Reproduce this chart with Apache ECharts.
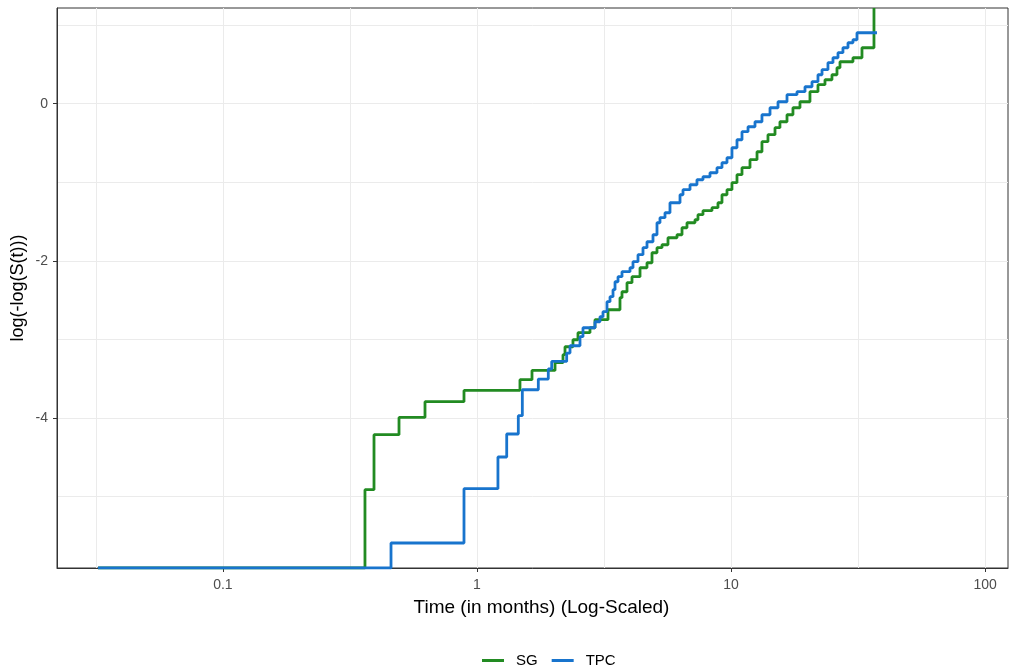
<!DOCTYPE html>
<html>
<head>
<meta charset="utf-8">
<script src="https://cdn.jsdelivr.net/npm/echarts@6/dist/echarts.min.js"></script>
<style>
  html, body { margin: 0; padding: 0; background: #ffffff; }
  #chart { width: 1022px; height: 671px; }
</style>
</head>
<body>
<div id="chart"></div>
<script>
// Axis limits: time in months (log scale) and log(-log(S(t)))
const X_MIN = 0.02223, X_MAX = 123.0;
const Y_MIN = -5.907, Y_MAX = 1.218;
const X_TICKS = [0.1, 1, 10, 100];
const Y_TICKS = [-4, -2, 0];

// Step points: event time (months) and log(-log(S(t))) after the event.
// -Infinity / Infinity (S = 1 / S = 0) are drawn on the panel edge.
const sgTime = [0.03225, 0.3623, 0.3932, 0.4932, 0.6242, 0.8888, 1.476, 1.646, 2.028, 2.180,
  2.220, 2.386, 2.497, 2.784, 2.913, 3.278, 3.654, 3.721, 3.894, 4.074,
  4.381, 4.667, 4.884, 5.110, 5.347, 5.645, 6.126, 6.410, 6.706, 7.210,
  7.408, 7.752, 8.410, 8.880, 9.209, 9.636, 10.08, 10.55, 11.04, 11.87,
  12.65, 13.23, 13.97, 14.89, 15.57, 16.60, 17.52, 18.67, 20.44, 21.98,
  23.42, 24.95, 26.11, 26.83, 30.18, 32.75, 36.51];
const sgValue = [-Infinity, -4.911, -4.211, -3.991, -3.791, -3.648, -3.511, -3.393, -3.295, -3.193,
  -3.092, -3.003, -2.913, -2.850, -2.748, -2.621, -2.468, -2.392, -2.277, -2.201,
  -2.087, -2.023, -1.896, -1.832, -1.794, -1.705, -1.667, -1.578, -1.514, -1.476,
  -1.412, -1.361, -1.323, -1.260, -1.158, -1.094, -1.005, -0.903, -0.814, -0.712,
  -0.611, -0.483, -0.394, -0.305, -0.229, -0.140, -0.051, 0.025, 0.153, 0.242,
  0.305, 0.369, 0.458, 0.534, 0.585, 0.712, Infinity];

const tpcTime = [0.03225, 0.4587, 0.8888, 1.209, 1.309, 1.454, 1.508, 1.743, 1.908, 1.968,
  2.254, 2.323, 2.543, 2.613, 2.913, 3.048, 3.132, 3.248, 3.338, 3.430,
  3.493, 3.589, 3.721, 4.001, 4.111, 4.302, 4.501, 4.667, 4.928, 5.110,
  5.250, 5.494, 5.748, 6.295, 6.468, 6.892, 7.340, 7.752, 8.260, 8.801,
  9.209, 9.636, 10.08, 10.55, 11.04, 11.66, 12.42, 13.23, 14.23, 15.30,
  16.60, 18.17, 19.54, 20.82, 21.98, 22.80, 24.06, 25.18, 26.35, 27.56,
  28.85, 30.18, 31.30, 37.52];
const tpcValue = [-Infinity, -5.589, -4.898, -4.495, -4.202, -3.969, -3.639, -3.503, -3.375, -3.279,
  -3.172, -3.079, -2.964, -2.850, -2.774, -2.710, -2.646, -2.519, -2.455, -2.366,
  -2.265, -2.201, -2.137, -2.087, -2.010, -1.921, -1.832, -1.756, -1.667, -1.514,
  -1.450, -1.387, -1.260, -1.158, -1.094, -1.031, -0.967, -0.929, -0.878, -0.814,
  -0.751, -0.687, -0.560, -0.458, -0.356, -0.293, -0.229, -0.140, -0.051, 0.025,
  0.115, 0.153, 0.216, 0.280, 0.369, 0.433, 0.522, 0.585, 0.649, 0.712,
  0.776, 0.814, 0.903, 0.903];

const SERIES_NAMES = ['SG', 'TPC'];
const COLORS = { SG: '#228B22', TPC: '#1874CD' };

// Infinite values sit on the panel edge, as in a clipped plot.
function edge(v) {
  if (v === -Infinity) return Y_MIN;
  if (v === Infinity) return Y_MAX;
  return v;
}
function pairs(ts, vs) {
  return ts.map((t, i) => [t, edge(vs[i])]);
}

const FONT = '"Liberation Sans", Arial, Helvetica, sans-serif';
const GRID_COLOR = '#ebebeb';
const AXIS_COLOR = '#333333';

const chart = echarts.init(document.getElementById('chart'), null, { renderer: 'canvas' });

const option = {
  animation: false,
  backgroundColor: '#ffffff',
  textStyle: { fontFamily: FONT },
  grid: {
    left: 57, right: 14, top: 8, bottom: 103,
    show: true, borderColor: AXIS_COLOR, borderWidth: 1,
    backgroundColor: 'transparent',
    outerBoundsMode: 'none'
  },
  legend: {
    data: SERIES_NAMES,
    left: 482, top: 653, padding: 0,
    icon: 'rect', itemWidth: 22, itemHeight: 3, itemGap: 14,
    textStyle: { fontFamily: FONT, fontSize: 15, color: '#000000', padding: [0, 0, 0, 7] }
  },
  xAxis: [
    {
      type: 'log', logBase: 10, min: X_MIN, max: X_MAX,
      position: 'bottom',
      name: 'Time (in months) (Log-Scaled)',
      nameLocation: 'middle', nameGap: 30, nameMoveOverlap: false,
      nameTextStyle: { fontFamily: FONT, fontSize: 19, color: '#000000', padding: [0, 0, 0, 18] },
      axisLine: { show: true, onZero: false, lineStyle: { color: AXIS_COLOR, width: 1 } },
      axisTick: { show: true, length: 4, customValues: X_TICKS, lineStyle: { color: AXIS_COLOR, width: 1 } },
      axisLabel: {
        customValues: X_TICKS, color: '#4d4d4d', fontSize: 14, margin: 10, fontFamily: FONT,
        formatter: v => String(+Number(v).toPrecision(3))
      },
      splitLine: { show: false }
    },
    {
      // half-decade grid lines
      type: 'log', logBase: Math.sqrt(10), min: X_MIN, max: X_MAX,
      position: 'bottom',
      axisLine: { show: false }, axisTick: { show: false }, axisLabel: { show: false },
      splitLine: { show: true, showMinLine: false, showMaxLine: false, lineStyle: { color: GRID_COLOR, width: 1 } }
    }
  ],
  yAxis: [
    {
      type: 'value', min: Y_MIN, max: Y_MAX,
      position: 'left',
      name: 'log(-log(S(t)))',
      nameLocation: 'middle', nameGap: 30, nameMoveOverlap: false,
      nameTextStyle: { fontFamily: FONT, fontSize: 18, color: '#000000' },
      axisLine: { show: true, onZero: false, lineStyle: { color: AXIS_COLOR, width: 1 } },
      axisTick: { show: true, length: 4, customValues: Y_TICKS, lineStyle: { color: AXIS_COLOR, width: 1 } },
      axisLabel: { customValues: Y_TICKS, color: '#4d4d4d', fontSize: 14, margin: 9, fontFamily: FONT },
      splitLine: { show: false }
    },
    {
      // unit grid lines
      type: 'value', min: Y_MIN, max: Y_MAX, splitNumber: 7,
      position: 'left',
      axisLine: { show: false }, axisTick: { show: false }, axisLabel: { show: false },
      splitLine: { show: true, showMinLine: false, showMaxLine: false, lineStyle: { color: GRID_COLOR, width: 1 } }
    }
  ],
  series: [
    {
      name: 'SG', type: 'line', step: 'end',
      xAxisIndex: 0, yAxisIndex: 0,
      data: pairs(sgTime, sgValue),
      symbol: 'none', showSymbol: false, clip: true,
      lineStyle: { color: COLORS.SG, width: 2.8 },
      itemStyle: { color: COLORS.SG },
      z: 3
    },
    {
      name: 'TPC', type: 'line', step: 'end',
      xAxisIndex: 0, yAxisIndex: 0,
      data: pairs(tpcTime, tpcValue),
      symbol: 'none', showSymbol: false, clip: true,
      lineStyle: { color: COLORS.TPC, width: 2.8 },
      itemStyle: { color: COLORS.TPC },
      z: 4
    }
  ]
};

chart.setOption(option);
</script>
</body>
</html>
